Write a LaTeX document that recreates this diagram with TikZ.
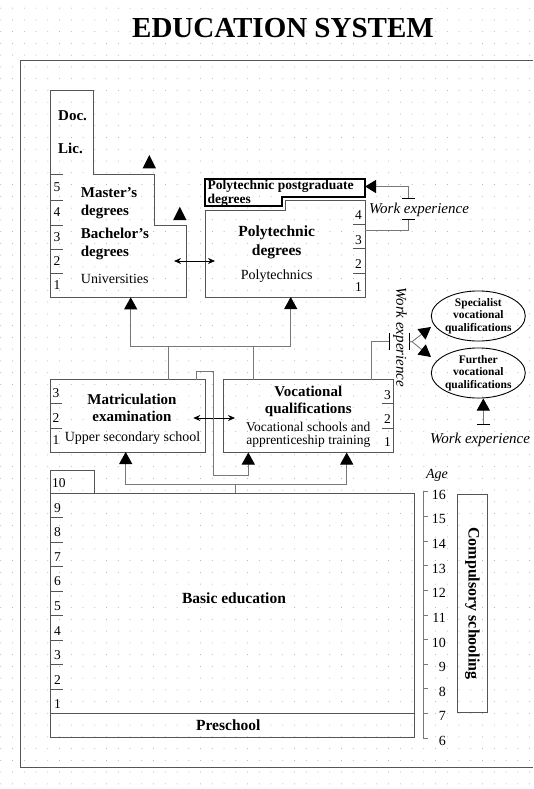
\documentclass[tikz,border=0pt]{standalone}
\usepackage{fontspec}
\setmainfont{Liberation Serif}
\usetikzlibrary{arrows.meta,shapes.geometric}

\definecolor{framegray}{RGB}{85,85,85}
\definecolor{wiregray}{RGB}{120,120,120}
\definecolor{dotgray}{RGB}{170,170,170}

\begin{document}
\begin{tikzpicture}[x=1pt, y=-1pt,
    outline/.style={draw=framegray, line width=0.9pt},
    wire/.style={draw=wiregray, line width=0.9pt},
    arrowup/.style={-{Triangle[length=12pt,width=13pt,color=black,fill=black]}},
    dblarr/.style={{Stealth[length=7pt,width=6pt]}-{Stealth[length=7pt,width=6pt]}},
    boldtxt/.style={font={\fontsize{15}{17.5}\selectfont\bfseries}, align=center, inner sep=0pt},
    normtxt/.style={font={\fontsize{14}{14}\selectfont}, align=center, inner sep=0pt},
    yeartxt/.style={font={\fontsize{13.5}{14}\selectfont}, inner sep=0pt},
    worktxt/.style={font={\fontsize{15}{15}\selectfont\itshape}, inner sep=0pt},
    oval/.style={ellipse, draw=black, line width=0.9pt, minimum width=90pt, minimum height=38pt,
        inner sep=0pt, align=center, font={\fontsize{11.5}{12.5}\selectfont\bfseries}}]
    \useasboundingbox (0,0) rectangle (533,789);
    \foreach \i in {0,...,45}
        \foreach \j in {0,...,66}
            \fill[dotgray] (0.75+11.75*\i, 8.25+11.75*\j) circle (0.5pt);

    \node[font={\fontsize{29}{29}\selectfont\bfseries}] (title) at (283,28) {EDUCATION SYSTEM};
    \draw[outline] (533,60) -- (20,60) -- (20,767) -- (533,767);

    % universities
    \draw[outline] (50.7,90) -- (93.3,90) -- (93.3,174.3) -- (154.3,174.3) -- (154.3,225)
        -- (186,225) -- (186,297.3) -- (50.7,297.3) -- cycle;
    \foreach \y in {174.3,200,225,249,273}
        \draw[outline] (50.7,\y) -- (63,\y);
    \foreach \n/\y in {5/187,4/212,3/237,2/261,1/285}
        \node[yeartxt] (u\n) at (57,\y) {\n};
    \fill (142.7,168.3) -- (156,168.3) -- (149.3,155) -- cycle;
    \fill (173.2,220) -- (186.5,220) -- (179.8,206.7) -- cycle;
    \node[boldtxt, anchor=west] (doc) at (58,115.7) {Doc.};
    \node[boldtxt, anchor=west] (lic) at (58,148) {Lic.};
    \node[boldtxt, align=left, anchor=west] (master) at (80.7,203) {Master's\\degrees};
    \node[boldtxt, align=left, anchor=west] (bachelor) at (80.7,244) {Bachelor's\\degrees};
    \node[normtxt, anchor=west] (univ) at (80.7,279) {Universities};

    % polytechnics
    \draw[black, line width=1.1pt] (205,179) -- (365,179) -- (365,197) -- (282,197) -- (282,206)
        -- (205,206) -- cycle;
    \draw[outline] (205,210) -- (285.5,210) -- (285.5,200.5) -- (365,200.5) -- (365,297)
        -- (205,297) -- cycle;
    \foreach \y in {224,248,273}
        \draw[outline] (353,\y) -- (365,\y);
    \foreach \n/\y in {4/215,3/240,2/264,1/287}
        \node[yeartxt] (p\n) at (358.5,\y) {\n};
    \node[anchor=west, align=left, inner sep=0pt, font={\fontsize{13.5}{14.5}\selectfont\bfseries}]
        (pgrad) at (207.5,193.5) {Polytechnic postgraduate\\degrees};
    \node[boldtxt, font={\fontsize{15.5}{19}\selectfont\bfseries}] (poly) at (276.7,242) {Polytechnic\\degrees};
    \node[normtxt] (polys) at (276.7,276) {Polytechnics};

    % upper secondary
    \draw[outline] (50.7,379.5) rectangle (205,452);
    \foreach \y in {403.3,428.3}
        \draw[outline] (50.7,\y) -- (62,\y);
    \foreach \n/\y in {3/393,2/418,1/440}
        \node[yeartxt] (m\n) at (56,\y) {\n};
    \node[boldtxt] (matric) at (132,408) {Matriculation\\examination};
    \node[normtxt] (upper) at (132.5,438) {Upper secondary school};

    \draw[outline] (223.3,379.5) rectangle (393.3,452.5);
    \foreach \y in {403.3,428}
        \draw[outline] (381.7,\y) -- (393.3,\y);
    \foreach \n/\y in {3/395,2/419,1/442}
        \node[yeartxt] (v\n) at (387.5,\y) {\n};
    \node[boldtxt, font={\fontsize{15}{16.5}\selectfont\bfseries}] (voc) at (308.3,401.5) {Vocational\\qualifications};
    \node[normtxt, font={\fontsize{13.5}{13}\selectfont}] (vocsch) at (308.3,434.5) {Vocational schools and\\apprenticeship training};

    % further qualifications
    \node[oval] (spec) at (478.3,316) {Specialist\\vocational\\qualifications};
    \node[oval] (further) at (478.3,373) {Further\\vocational\\qualifications};

    % basic education
    \draw[outline] (50.7,470.7) rectangle (94,493.3);
    \node[yeartxt, anchor=west] (b10) at (52,483) {10};
    \draw[outline] (50.7,493.3) rectangle (414,713.3);
    \foreach \k in {1,...,8}
        \draw[outline] (50.7,{493.3+24.5*\k}) -- (63.3,{493.3+24.5*\k});
    \foreach \n in {1,...,9}
        \node[yeartxt] (b\n) at (57.5,{713.3-24.5*\n+15.25}) {\n};
    \node[boldtxt, font={\fontsize{15.5}{17}\selectfont\bfseries}] (basic) at (234,598) {Basic education};
    \draw[outline] (50.7,713.3) rectangle (414,737.3);
    \node[boldtxt, font={\fontsize{15.5}{17}\selectfont\bfseries}] (pre) at (228.3,725) {Preschool};

    % age scale
    \node[worktxt, font={\fontsize{14}{14}\selectfont\itshape}] (age) at (437,475) {Age};
    \draw[draw=wiregray, line width=1.3pt] (423.3,491.7) -- (423.3,738);
    \foreach \a in {6,...,16} {
        \draw[wiregray, line width=0.7pt] (423.3,{738-24.63*(\a-6)}) -- ++(4.5,0);
        \node[yeartxt, font={\fontsize{14}{14}\selectfont}, anchor=east] (age\a) at (446,{741-24.63*(\a-6)}) {\a};
    }
    \draw[outline] (457.7,494) rectangle (487.3,712.7);
    \node[boldtxt, font={\fontsize{16}{17}\selectfont\bfseries}, rotate=-90] (compul) at (472.5,603.5) {Compulsory schooling};

    % connectors
    \coordinate (ua) at (174,261);
    \coordinate (pa) at (215,261);
    \draw[black, line width=0.8pt, dblarr] (ua) -- (pa);
    \coordinate (ma) at (193.3,418);
    \coordinate (va) at (235,418);
    \draw[black, line width=0.8pt, dblarr] (ma) -- (va);

    \coordinate (unibot) at (130.7,297.3);
    \coordinate (polybot) at (290.7,297);
    \coordinate (mattop) at (168.3,379.5);
    \coordinate (voctop) at (253.3,379.5);
    \coordinate (upjoin) at (0,346.7);
    \draw[wire, arrowup] (voctop) |- (unibot |- upjoin) -- (unibot);
    \draw[wire, arrowup] (mattop) |- (polybot |- upjoin) -- (polybot);

    \coordinate (basictop) at (235.7,493.3);
    \coordinate (matbot) at (125.7,452);
    \coordinate (vocbot) at (346.7,452.5);
    \coordinate (lowjoin) at (0,484);
    \draw[wire, arrowup] (basictop) |- (matbot |- lowjoin) -- (matbot);
    \draw[wire, arrowup] (basictop) |- (vocbot |- lowjoin) -- (vocbot);

    \coordinate (matcnr) at (196.7,379.5);
    \coordinate (bendA) at (213.3,371.7);
    \coordinate (vocbotL) at (248.3,452.5);
    \coordinate (bendB) at (0,475);
    \draw[wire, arrowup] (matcnr) |- (bendA) |- (vocbotL |- bendB) -- (vocbotL);

    % work experience
    \coordinate (polyside) at (365,230);
    \coordinate (pgside) at (365,186.5);
    \coordinate (wxlow) at (408,219);
    \coordinate (wxhigh) at (408,199);
    \draw[wire, -{Bar[width=13pt,black]}] (polyside) -| (wxlow);
    \draw[wire, {Bar[width=13pt,black]}-{Triangle[length=11pt,width=13pt,color=black,fill=black]}] (wxhigh) |- (pgside);
    \node[worktxt] (wexpP) at (419,209.5) {Work experience};

    \coordinate (vocside) at (371.7,379.5);
    \coordinate (wxleft) at (390,341.7);
    \coordinate (wxright) at (409,341.7);
    \coordinate (specin) at (431,327);
    \coordinate (furtherin) at (431,357);
    \draw[wire, -{Bar[width=17pt,black]}] (vocside) |- (wxleft);
    \draw[wire, {Bar[width=17pt,black]}-{Triangle[length=12pt,width=13pt,color=black,fill=black]}] (wxright) -- ++(3,0) -- (specin);
    \draw[wire, -{Triangle[length=12pt,width=13pt,color=black,fill=black]}] (wxright) -- ++(3,0) -- (furtherin);
    \node[worktxt, rotate=-90] (wexpV) at (400,337.3) {Work experience};

    \coordinate (wxbot) at (483.3,425);
    \draw[wire, {Bar[width=13pt,black]}-{Triangle[length=12pt,width=13pt,color=black,fill=black]}] (wxbot) -- (wxbot |- further.south);
    \node[worktxt, anchor=west] (wexpB) at (430,440) {Work experience};
\end{tikzpicture}
\end{document}
